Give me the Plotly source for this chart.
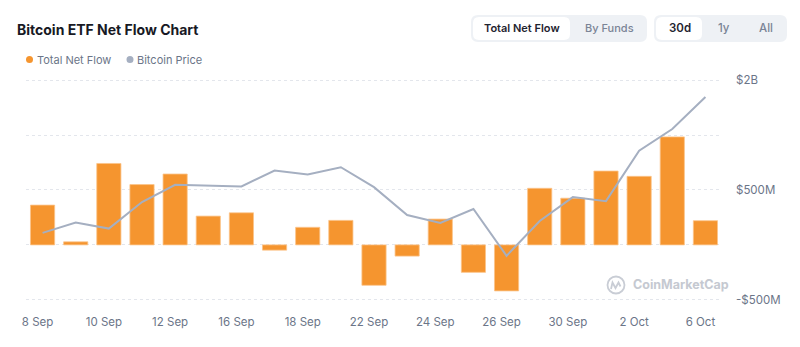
import plotly.graph_objects as go

# Trading days shown on the category axis
dates = [
    "8 Sep", "9 Sep", "10 Sep", "11 Sep", "12 Sep",
    "15 Sep", "16 Sep", "17 Sep", "18 Sep", "19 Sep",
    "22 Sep", "23 Sep", "24 Sep", "25 Sep", "26 Sep",
    "29 Sep", "30 Sep", "1 Oct", "2 Oct", "3 Oct", "6 Oct",
]

# Total daily net flow of spot Bitcoin ETFs (USD)
net_flow = [
    362e6, 28e6, 741e6, 549e6, 645e6,
    262e6, 292e6, -48e6, 160e6, 223e6,
    -368e6, -102e6, 235e6, -250e6, -419e6,
    515e6, 425e6, 672e6, 624e6, 983e6, 220e6,
]

# Bitcoin closing price (USD)
btc_price = [
    111770, 112750, 112180, 114700, 116340,
    116250, 116180, 117700, 117320, 118010,
    116120, 113470, 112710, 114040, 109590,
    112900, 115170, 114790, 119590, 121640, 124690,
]

# Right-hand axis ticks and their labels
flow_ticks = [-500e6, 0, 500e6, 1e9, 1.5e9]
flow_tick_text = ["-$500M", "", "$500M", "", "$2B"]

ORANGE = "#f5952f"
PRICE_GREY = "#a5afc1"
LABEL = "#6b7588"
FONT = "Inter"

W, H = 800, 347
ML, MR, MT, MB = 26, 78, 79, 45
PW, PH = W - ML - MR, H - MT - MB


def px(x):
    """Pixel x -> paper x."""
    return (x - ML) / PW


def py(y):
    """Pixel y (from top) -> paper y."""
    return (H - MB - y) / PH


def rrect(x0, y0, x1, y1, r):
    pts = [
        ("M", [(x0 + r, y0)]), ("L", [(x1 - r, y0)]), ("Q", [(x1, y0), (x1, y0 + r)]),
        ("L", [(x1, y1 - r)]), ("Q", [(x1, y1), (x1 - r, y1)]),
        ("L", [(x0 + r, y1)]), ("Q", [(x0, y1), (x0, y1 - r)]),
        ("L", [(x0, y0 + r)]), ("Q", [(x0, y0), (x0 + r, y0)]),
    ]
    s = ""
    for cmd, coords in pts:
        s += cmd + " " + " ".join(f"{px(a):.5f},{py(b):.5f}" for a, b in coords) + " "
    return s + "Z"


fig = go.Figure()

fig.add_trace(go.Bar(
    x=dates, y=net_flow, name="Total Net Flow",
    marker=dict(color=ORANGE, line=dict(color="#fbc48a", width=0.8)),
    showlegend=False, yaxis="y",
))

fig.add_trace(go.Scatter(
    x=dates, y=btc_price, name="Bitcoin Price", mode="lines",
    line=dict(color=PRICE_GREY, width=2),
    showlegend=False, yaxis="y2",
))

fig.update_layout(
    width=W, height=H,
    margin=dict(l=ML, r=MR, t=MT, b=MB, pad=0),
    paper_bgcolor="white", plot_bgcolor="white",
    bargap=0.27,
    font=dict(family=FONT, size=12, color=LABEL),
    xaxis=dict(
        type="category", tickmode="array",
        tickvals=dates[::2], ticktext=dates[::2],
        showgrid=False, zeroline=False, showline=False, ticks="",
        ticklabelstandoff=11, ticklabelshift=-5,
        tickfont=dict(size=11.5, color=LABEL),
        range=[-0.5, len(dates) - 0.5],
    ),
    yaxis=dict(
        side="right", range=[-520e6, 1.51e9],
        tickmode="array", tickvals=flow_ticks, ticktext=flow_tick_text,
        showgrid=True, gridcolor="#e3e6ec", griddash="dot", gridwidth=1,
        zeroline=False, showline=False, ticks="",
        ticklabelstandoff=13,
        tickfont=dict(size=11.5, color=LABEL),
    ),
    yaxis2=dict(
        overlaying="y", range=[105200, 126400],
        visible=False, showgrid=False,
    ),
)

shapes = []
# Button groups
shapes.append(dict(type="path", xref="paper", yref="paper", path=rrect(471, 15, 647, 42, 7),
                   fillcolor="#eef1f5", line=dict(width=0), layer="above"))
shapes.append(dict(type="path", xref="paper", yref="paper", path=rrect(473, 17, 570, 40, 6),
                   fillcolor="white", line=dict(width=0), layer="above"))
shapes.append(dict(type="path", xref="paper", yref="paper", path=rrect(654, 15, 787, 42, 7),
                   fillcolor="#eef1f5", line=dict(width=0), layer="above"))
shapes.append(dict(type="path", xref="paper", yref="paper", path=rrect(656, 17, 702, 40, 6),
                   fillcolor="white", line=dict(width=0), layer="above"))
# Legend dots
for cx, col in [(29.5, ORANGE), (130, "#a5afc1")]:
    shapes.append(dict(type="circle", xref="paper", yref="paper",
                       x0=px(cx - 3.5), x1=px(cx + 3.5), y0=py(59.5 + 3.5), y1=py(59.5 - 3.5),
                       fillcolor=col, line=dict(width=0), layer="above"))
# Watermark logo
shapes.append(dict(type="circle", xref="paper", yref="paper",
                   x0=px(607.5), x1=px(624.5), y0=py(293.5), y1=py(276.5),
                   fillcolor="rgba(0,0,0,0)", line=dict(color="#c9cdd5", width=1.8), layer="above"))
wave = [(611, 289), (612.5, 282.5), (615.5, 288), (618.5, 282.5), (620.5, 286.5)]
wave_path = "M " + " L ".join(f"{px(a):.5f},{py(b):.5f}" for a, b in wave)
shapes.append(dict(type="path", xref="paper", yref="paper", path=wave_path,
                   line=dict(color="#c9cdd5", width=1.8), layer="above"))

annotations = [
    dict(text="<b>Bitcoin ETF Net Flow Chart</b>", x=px(15), y=py(29),
         font=dict(size=14, color="#171924")),
    dict(text="Total Net Flow", x=px(35), y=py(59.5), font=dict(size=11, color=LABEL)),
    dict(text="Bitcoin Price", x=px(135), y=py(59.5), font=dict(size=11, color=LABEL)),
    dict(text="Total Net Flow", x=px(522), y=py(28.5), xanchor="center",
         font=dict(size=11, color="#1f2430", weight=600)),
    dict(text="By Funds", x=px(609), y=py(28.5), xanchor="center",
         font=dict(size=11, color="#7a8496", weight=500)),
    dict(text="30d", x=px(679.5), y=py(28.5), xanchor="center",
         font=dict(size=11.5, color="#1f2430", weight=600)),
    dict(text="1y", x=px(724), y=py(28.5), xanchor="center",
         font=dict(size=11.5, color="#7a8496", weight=500)),
    dict(text="All", x=px(765.5), y=py(28.5), xanchor="center",
         font=dict(size=11.5, color="#7a8496", weight=500)),
    dict(text="<b>CoinMarketCap</b>", x=px(631), y=py(284.5),
         font=dict(size=12.5, color="#c5c9d1")),
]
for a in annotations:
    a.setdefault("xref", "paper")
    a.setdefault("yref", "paper")
    a.setdefault("xanchor", "left")
    a.setdefault("yanchor", "middle")
    a["showarrow"] = False

fig.update_layout(shapes=shapes, annotations=annotations)

fig.write_html("out.html")
